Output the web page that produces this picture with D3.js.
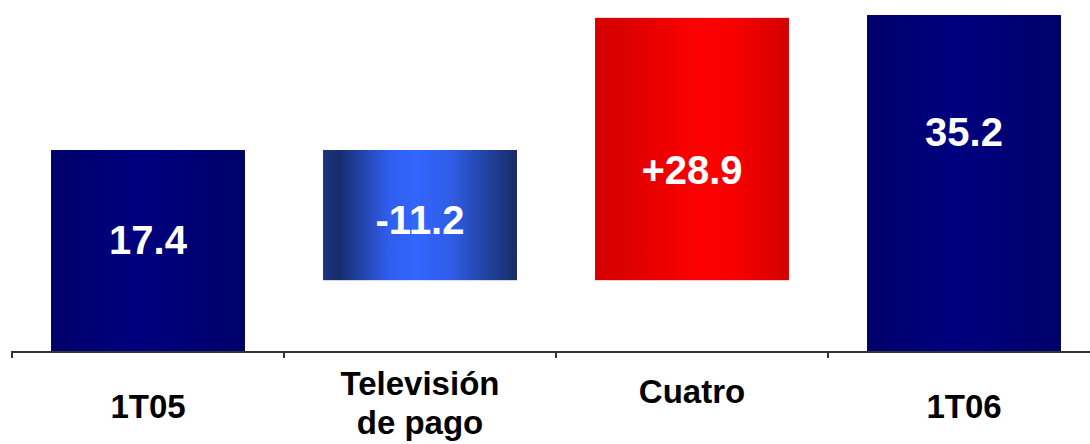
<!doctype html>
<html>
<head>
    <meta charset="UTF-8">
    <title>1T05 - 1T06</title>
    <script src="https://d3js.org/d3.v7.min.js"></script>
    <style>
        body{ margin:0; background:#fff; }
        text{ font-family: "Liberation Sans", Arial, sans-serif; font-weight:bold; }
    </style>
</head>
<body>
  <svg id="svg1" width="1090" height="444"></svg>
  <script>
    // data
    var categories = ["1T05", "Televisión de pago", "Cuatro", "1T06"];
    var catLines   = [["1T05"], ["Televisión", "de pago"], ["Cuatro"], ["1T06"]];
    var valueLabels = ["17.4", "-11.2", "+28.9", "35.2"];
    // bar extents as drawn (chart units, 1T06 = 35.2)
    var barStart = [0, 21.1, 7.5, 0];
    var barEnd   = [21.1, 7.5, 34.9, 35.2];
    // where each value label sits on the value axis
    var labelAt  = [11.7, 13.8, 19.0, 23.0];
    var fills    = ["navy", "blue", "red", "navy"];

    var w = 1090, h = 444;
    var svg = d3.select("#svg1");

    var x = d3.scaleBand().domain(categories).range([12, 1100]).paddingInner(0.287).paddingOuter(0.1435);
    var y = d3.scaleLinear().domain([0, 35.2]).range([352, 15]);

    // gradients
    var defs = svg.append("defs");
    function grad(id, stops){
        var g = defs.append("linearGradient").attr("id", id)
            .attr("x1", "0%").attr("x2", "100%").attr("y1", "0%").attr("y2", "0%");
        stops.forEach(function(s){
            g.append("stop").attr("offset", s[0]).attr("stop-color", s[1]);
        });
    }
    grad("navy", [["0%", "#00006a"], ["45%", "#00007e"], ["60%", "#00007a"], ["100%", "#000068"]]);
    grad("blue", [["0%", "#1e3682"], ["8%", "#182c6c"], ["34%", "#2f5eee"], ["48%", "#3366ff"], ["66%", "#2f5de6"], ["100%", "#172c66"]]);
    grad("red",  [["0%", "#d60000"], ["15%", "#dc0000"], ["55%", "#ff0000"], ["75%", "#f40000"], ["100%", "#d40000"]]);

    // bars
    svg.selectAll("rect.bar").data(categories).enter().append("rect")
        .attr("class", "bar")
        .attr("x", function(d){ return x(d); })
        .attr("width", x.bandwidth())
        .attr("y", function(d, i){ return y(Math.max(barStart[i], barEnd[i])); })
        .attr("height", function(d, i){ return Math.abs(y(barStart[i]) - y(barEnd[i])); })
        .attr("fill", function(d, i){ return "url(#" + fills[i] + ")"; });

    // value labels
    svg.selectAll("text.val").data(categories).enter().append("text")
        .attr("class", "val")
        .attr("x", function(d){ return x(d) + x.bandwidth() / 2; })
        .attr("y", function(d, i){ return y(labelAt[i]); })
        .attr("dy", "0.36em")
        .attr("text-anchor", "middle")
        .attr("font-size", 40)
        .attr("fill", "#fff")
        .text(function(d, i){ return valueLabels[i]; });

    // axis line with ticks at band edges
    var step = x.step();
    var edges = d3.range(categories.length + 1).map(function(i){ return 12 + step * i; });
    svg.append("line")
        .attr("x1", 12).attr("x2", w)
        .attr("y1", 352).attr("y2", 352)
        .attr("stroke", "#333").attr("stroke-width", 2);
    svg.selectAll("line.tick").data(edges).enter().append("line")
        .attr("class", "tick")
        .attr("x1", function(d){ return d; }).attr("x2", function(d){ return d; })
        .attr("y1", 351).attr("y2", 358)
        .attr("stroke", "#333").attr("stroke-width", 2);

    // category labels
    var cat = svg.selectAll("text.cat").data(categories).enter().append("text")
        .attr("class", "cat")
        .attr("text-anchor", "middle")
        .attr("font-size", 33)
        .attr("fill", "#000")
        .attr("x", function(d){ return x(d) + x.bandwidth() / 2; })
        .attr("y", function(d, i){ return catLines[i].length > 1 ? 395 : (i == 2 ? 403 : 418); });
    cat.each(function(d, i){
        var t = d3.select(this);
        catLines[i].forEach(function(line, j){
            t.append("tspan")
                .attr("x", x(d) + x.bandwidth() / 2)
                .attr("dy", j == 0 ? 0 : 39)
                .text(line);
        });
    });
  </script>
</body>
</html>
